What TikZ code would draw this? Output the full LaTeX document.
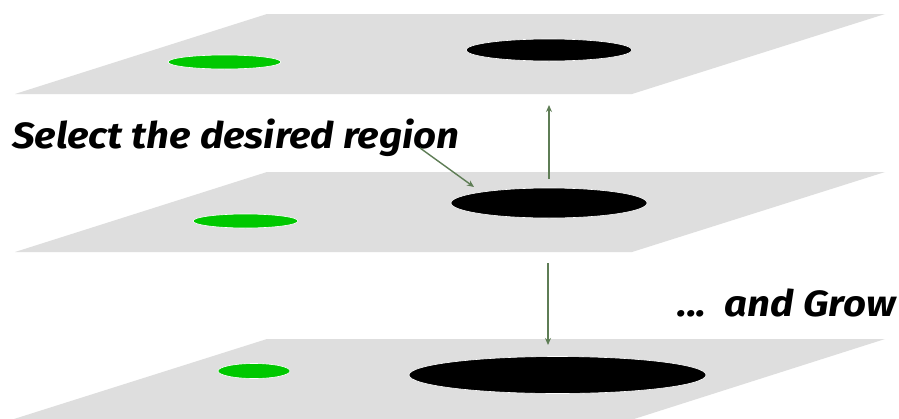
\documentclass[tikz,border=0pt]{standalone}
\usepackage{fontspec}
\setsansfont{Fira Sans}
\usetikzlibrary{shapes.geometric,arrows.meta}
\definecolor{plane}{HTML}{DEDEDE}
\definecolor{seed}{HTML}{00C800}
\definecolor{pointer}{HTML}{5E7D55}
\newcommand{\widetext}[1]{\scalebox{1.1}[1]{#1}}
\tikzset{
  layer/.style={fill=plane},
  seedblob/.style={ellipse, fill=seed, draw=white, line width=0.6pt, inner sep=0pt},
  region/.style={ellipse, fill=black, draw=white, line width=0.6pt, inner sep=0pt},
  pointerline/.style={draw=pointer, line width=1.4pt, -{Stealth[length=7pt,width=6pt]}},
  caption/.style={font=\sffamily\bfseries\itshape\fontsize{36.5}{36.5}\selectfont, inner sep=0pt}
}
\begin{document}
\begin{tikzpicture}[x=1pt,y=-1pt]
\useasboundingbox (0,0) rectangle (899,418);
\fill[white] (0,0) rectangle (899,418);

% three stacked layers
\fill[layer] (15,94) -- (267,14) -- (885,14) -- (632,94) -- cycle;
\fill[layer] (15,252) -- (267,172) -- (885,172) -- (632,252) -- cycle;
\fill[layer] (14,419) -- (267,339) -- (885,339) -- (634,419) -- cycle;

% green blobs
\node[seedblob, minimum width=113pt, minimum height=14pt] (g1) at (224.5,62) {};
\node[seedblob, minimum width=105pt, minimum height=14pt] (g2) at (245.5,221) {};
\node[seedblob, minimum width=72pt,  minimum height=15pt] (g3) at (254,371) {};

% growing regions
\node[region, minimum width=166pt, minimum height=22pt] (r1) at (549,50) {};
\node[region, minimum width=196pt, minimum height=30pt] (r2) at (549,203) {};
\node[region, minimum width=297pt, minimum height=37pt] (r3) at (557.5,375) {};

% captions
\node[caption, anchor=base west] (sel) at (12,148) {\widetext{Select the desired region}};
\node[caption, anchor=base east] (grow) at (896,316) {\widetext{...\ \ and Grow}};

% connectors
\coordinate (upfrom) at (549,179);
\coordinate (upto) at (549,105);
\coordinate (downfrom) at (548,263);
\coordinate (downto) at (548,345);
\coordinate (selfrom) at (420,148);
\coordinate (selto) at (474,187);
\draw[pointerline] (upfrom) -- (upto);
\draw[pointerline] (downfrom) -- (downto);
\draw[pointerline] (selfrom) -- (selto);
\end{tikzpicture}
\end{document}
